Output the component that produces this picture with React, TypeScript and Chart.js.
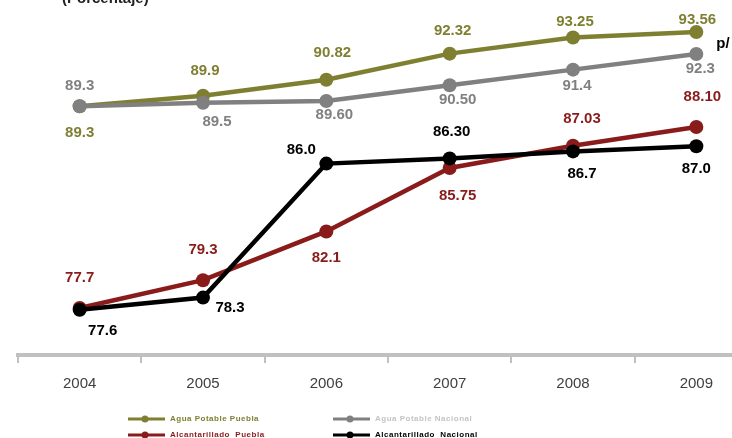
import React, { useEffect, useRef } from "react";
import { Chart, registerables } from "chart.js";

Chart.register(...registerables);

const years = ["2004", "2005", "2006", "2007", "2008", "2009"];

const aguaPuebla = [89.3, 89.9, 90.82, 92.32, 93.25, 93.56];
const aguaNacional = [89.3, 89.5, 89.6, 90.5, 91.4, 92.3];
const alcPuebla = [77.7, 79.3, 82.1, 85.75, 87.03, 88.1];
const alcNacional = [77.6, 78.3, 86.0, 86.3, 86.7, 87.0];

const aguaPueblaLabels = ["89.3", "89.9", "90.82", "92.32", "93.25", "93.56"];
const aguaNacionalLabels = ["89.3", "89.5", "89.60", "90.50", "91.4", "92.3"];
const alcPueblaLabels = ["77.7", "79.3", "82.1", "85.75", "87.03", "88.10"];
const alcNacionalLabels = ["77.6", "78.3", "86.0", "86.30", "86.7", "87.0"];

const seriesNames = [
  "Agua Potable Puebla",
  "Alcantarillado  Puebla",
  "Agua Potable Nacional",
  "Alcantarillado  Nacional",
];

const titleText = "(Porcentaje)";
const noteText = "p/";

// style config (label offsets in px relative to point)
const OLIVE = "#7f7f31";
const RED = "#8a1b1b";
const GREY = "#808080";
const BLACK = "#000000";

const labelOffsets: number[][][] = [
  [[0, 27], [2, -25], [6, -27], [3, -23], [2, -16], [1, -12]],
  [[0, -30], [0, -30], [0, 26], [8, 28], [9, -27], [6, -30]],
  [[0, -20], [14, 19], [8, 14], [8, 15], [4, 16], [4, 15]],
  [[23, 21], [27, 10], [-25, -14], [2, -27], [9, 22], [0, 23]],
];

const FONT = "'Liberation Sans', Arial, sans-serif";

export default function App() {
  const ref = useRef<HTMLCanvasElement | null>(null);

  useEffect(() => {
    const canvas = ref.current;
    if (!canvas) return;

    const labelSets = [aguaPueblaLabels, alcPueblaLabels, aguaNacionalLabels, alcNacionalLabels];
    const labelColors = [OLIVE, RED, GREY, BLACK];
    const legendTextColors = [OLIVE, RED, "#c4c4c4", BLACK];

    const labelsPlugin = {
      id: "valueLabels",
      afterDatasetsDraw(chart: any) {
        const ctx = chart.ctx;
        ctx.save();
        ctx.font = `bold 15px ${FONT}`;
        ctx.textAlign = "center";
        ctx.textBaseline = "middle";
        chart.data.datasets.forEach((ds: any, di: number) => {
          const meta = chart.getDatasetMeta(di);
          meta.data.forEach((pt: any, i: number) => {
            const off = labelOffsets[di][i];
            ctx.fillStyle = labelColors[di];
            ctx.fillText(labelSets[di][i], pt.x + off[0], pt.y + off[1]);
          });
        });
        // note
        ctx.fillStyle = BLACK;
        ctx.fillText(noteText, 723, 44);
        // cut-off title
        ctx.textAlign = "left";
        ctx.textBaseline = "alphabetic";
        ctx.font = `bold 15px ${FONT}`;
        ctx.fillStyle = "#222";
        ctx.fillText(titleText, 62, 3);
        ctx.restore();
      },
      afterDraw(chart: any) {
        const ctx = chart.ctx;
        ctx.save();
        const rows = [419, 435];
        const cols = [128, 333];
        chart.data.datasets.forEach((ds: any, di: number) => {
          const col = cols[di < 2 ? 0 : 1];
          const row = rows[di % 2];
          ctx.strokeStyle = ds.borderColor;
          ctx.lineWidth = 3;
          ctx.beginPath();
          ctx.moveTo(col, row);
          ctx.lineTo(col + 37, row);
          ctx.stroke();
          ctx.fillStyle = ds.borderColor;
          ctx.beginPath();
          ctx.arc(col + 17, row, 3.5, 0, Math.PI * 2);
          ctx.fill();
          ctx.font = `bold 8px ${FONT}`;
          (ctx as any).letterSpacing = "0.5px";
          ctx.textAlign = "left";
          ctx.textBaseline = "middle";
          ctx.fillStyle = legendTextColors[di];
          ctx.fillText(ds.label, col + 42, row);
        });
        ctx.restore();
      },
    };

    const mk = (label: string, data: number[], color: string, order: number) => ({
      label,
      data,
      borderColor: color,
      backgroundColor: color,
      borderWidth: 4.5,
      pointRadius: 7,
      pointBorderWidth: 0,
      pointBackgroundColor: color,
      tension: 0,
      order,
    });

    const chart = new Chart(canvas, {
      type: "line",
      data: {
        labels: years,
        datasets: [
          mk(seriesNames[0], aguaPuebla, OLIVE, 4),
          mk(seriesNames[1], alcPuebla, RED, 3),
          mk(seriesNames[2], aguaNacional, GREY, 2),
          mk(seriesNames[3], alcNacional, BLACK, 1),
        ],
      },
      options: {
        responsive: false,
        animation: false,
        layout: { padding: { left: 18, right: 18, top: 4, bottom: 33 } },
        plugins: { legend: { display: false }, tooltip: { enabled: false } },
        scales: {
          x: {
            offset: true,
            grid: {
              display: true,
              drawOnChartArea: false,
              offset: true,
              tickLength: 8,
              color: "#c0c0c0",
              lineWidth: 2,
            },
            border: { display: true, color: "#c0c0c0", width: 4 },
            ticks: { color: "#404040", font: { family: FONT, size: 15 }, padding: 12 },
          },
          y: { display: false, min: 75, max: 95 },
        },
      },
      plugins: [labelsPlugin],
    });

    return () => chart.destroy();
  }, []);

  return (
    <div style={{ position: "fixed", left: 0, top: 0, width: 732, height: 438, overflow: "hidden", background: "#fff" }}>
      <canvas ref={ref} width={776} height={438} style={{ display: "block" }} />
    </div>
  );
}
